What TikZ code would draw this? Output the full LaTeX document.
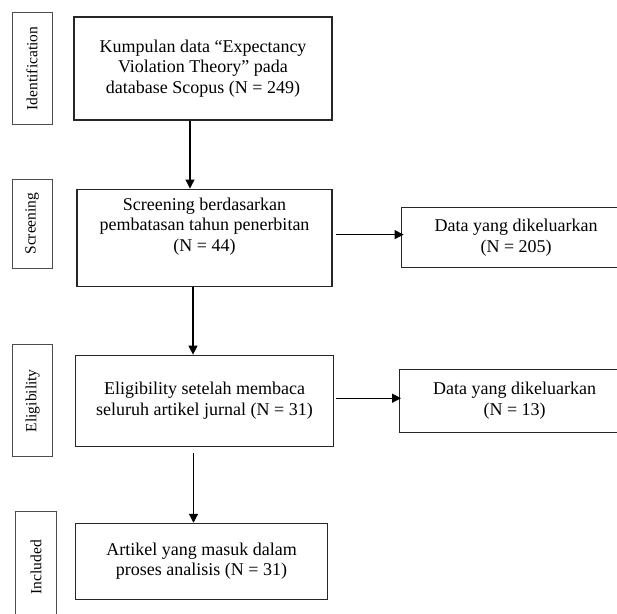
\documentclass[tikz,border=0pt]{standalone}
\usepackage{fontspec}
\setmainfont{Liberation Serif}
\usetikzlibrary{arrows.meta,positioning}

\begin{document}
\begin{tikzpicture}
   [x=1pt,y=-1pt,
    every node/.style={font=\fontsize{18}{20.5}\selectfont},
    box/.style={draw=black!85, line width=1.1pt, align=center, inner sep=0pt},
    side/.style={draw=black!70, line width=0.8pt, rotate=90, inner sep=0pt, minimum height=40pt, font=\fontsize{15.5}{18}\selectfont},
    flow/.style={-{Triangle[length=9pt,width=9pt]}, line width=1.2pt}]
   \useasboundingbox (0,0) rectangle (617,613);
   \node[box, minimum width=258pt, minimum height=103pt] (kumpulan) at (203,68.5) {Kumpulan data “Expectancy\\ Violation Theory” pada\\ database Scopus (N = 249)};
   \node[box, minimum width=255pt, minimum height=97pt, below=68pt of kumpulan, xshift=1.5pt] (screen) {Screening berdasarkan\\ pembatasan tahun penerbitan\\ (N = 44)\\[6pt]\mbox{}};
   \node[box, minimum width=258pt, minimum height=91pt, below=68pt of screen] (elig) {Eligibility setelah membaca\\ seluruh artikel jurnal (N = 31)};
   \node[box, minimum width=252pt, minimum height=76pt, below=76pt of elig, xshift=-3pt] (artikel) {Artikel yang masuk dalam\\ proses analisis (N = 31)};
   \node[box, minimum width=230pt, minimum height=60pt, right=68pt of screen] (keluar1) {Data yang dikeluarkan\\ (N = 205)};
   \node[box, minimum width=230pt, minimum height=63pt, right=65pt of elig] (keluar2) {Data yang dikeluarkan\\ (N = 13)};
   \node[side, minimum width=112pt, anchor=south] (ident) at ([xshift=-21pt]kumpulan.west) {Identification};
   \node[side, minimum width=89pt, anchor=south] (scr) at ([xshift=-24pt,yshift=14pt]screen.west) {Screening};
   \node[side, minimum width=112pt, anchor=south] (elg) at ([xshift=-22pt]elig.west) {Eligibility};
   \node[side, minimum width=112pt, minimum height=41pt, anchor=south] (incl) at ([xshift=-18pt,yshift=-6pt]artikel.west) {Included};
   \draw[flow] ([xshift=-13pt]kumpulan.south) -- ([xshift=-13pt]kumpulan.south |- screen.north);
   \draw[flow] ([xshift=-11.5pt]screen.south) -- ([xshift=-11.5pt]screen.south |- elig.north);
   \draw[flow] ([xshift=-11pt,yshift=-6pt]elig.south) -- ([xshift=-11pt]elig.south |- artikel.north);
   \draw[flow] ([xshift=3pt,yshift=3pt]screen.east) -- ([xshift=3pt,yshift=3pt]screen.east -| keluar1.west);
   \draw[flow] ([xshift=2pt,yshift=2.5pt]elig.east) -- ([xshift=2pt,yshift=2.5pt]elig.east -| keluar2.west);
\end{tikzpicture}
\end{document}
